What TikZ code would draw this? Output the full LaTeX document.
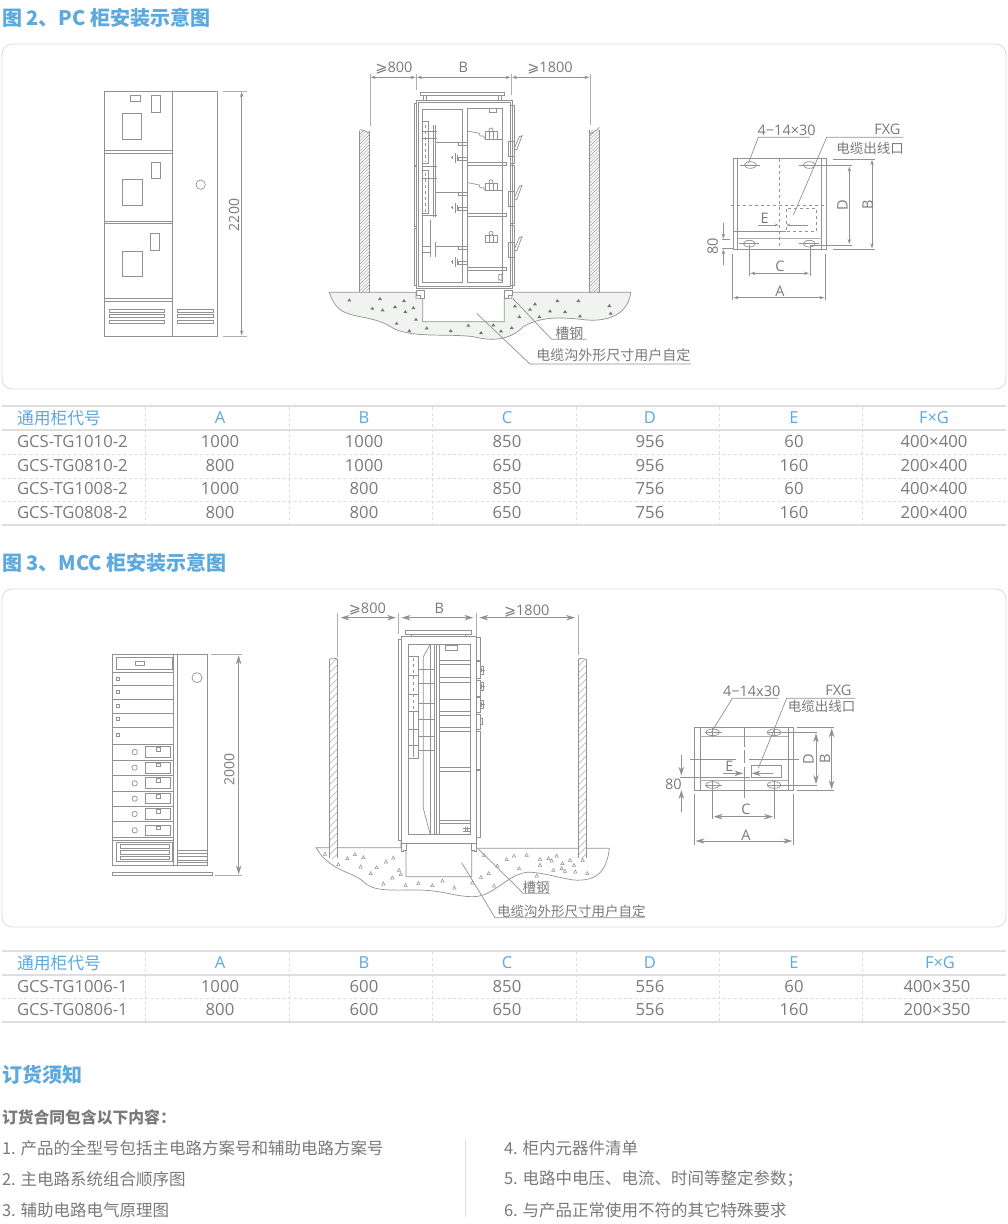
\documentclass[tikz,border=0pt]{standalone}
\usepackage{fontspec}
\setmainfont{Open Sans}
\newfontfamily\cjk{Noto Sans CJK SC}
\newfontfamily\symf{DejaVu Sans}
\usetikzlibrary{arrows.meta}
\definecolor{bluehd}{HTML}{5CA9DE}
\definecolor{txt}{HTML}{7A7A7A}
\definecolor{lc}{HTML}{929292}
\definecolor{lcl}{HTML}{ADADAD}
\definecolor{rule}{HTML}{DEDEDE}
\definecolor{frame}{HTML}{DDDDDD}
\definecolor{gnd}{HTML}{F1F3F1}
\newcommand\fs[1]{\fontsize{#1}{#1}\selectfont}
\tikzset{
 every node/.style={inner sep=0pt,outer sep=0pt,text=txt},
 ln/.style={draw=lc,line width=.7pt},
 lnl/.style={draw=lcl,line width=.7pt},
 dimln/.style={draw=lc,line width=.6pt,{Stealth[length=5pt,width=3.4pt]}-{Stealth[length=5pt,width=3.4pt]}},
 dimbig/.style={draw=lc,line width=.7pt,{Stealth[length=9pt,width=5.5pt]}-{Stealth[length=9pt,width=5.5pt]}},
 arr/.style={draw=lc,line width=.6pt,-{Stealth[length=5pt,width=3.4pt]}},
 arrbig/.style={draw=lc,line width=.7pt,-{Stealth[length=9pt,width=5.5pt]}},
 harr/.style={draw=lc,line width=.6pt,-{Stealth[length=4pt,width=3pt,open]}},
 zoomed/.style={x=0.33333pt,y=-0.33333pt},
 hd/.style={anchor=west,text=bluehd,font=\cjk\bfseries\fs{20}},
 lab/.style={font=\fs{14.5}},
 labc/.style={font=\cjk\fs{13.5}},
 tbh/.style={text=bluehd,font=\fs{16.5}},
 tbc/.style={font=\fs{16.7}},
 li/.style={anchor=west,font=\cjk\fs{16.5}},
 rulethick/.style={draw=rule,line width=1.3pt},
 ruledash/.style={draw=rule,line width=.9pt,dash pattern=on 3pt off 2.5pt},
}
\newcommand\hatchwall[5]{%
 \begin{scope}
 \clip (#1,#2) rectangle (#3,#4);
 \pgfmathsetmacro\hsecond{#2+#5}
 \pgfmathsetmacro\hlast{#4+#3-#1}
 \foreach \yy [evaluate=\yy as \yb using \yy-(#3-#1)] in {#2,\hsecond,...,\hlast}
   \draw[draw=lc,line width=.45pt] (#1,\yy) -- (#3,\yb);
 \end{scope}
 \draw[ln] (#1,#4) -- (#1,#2) (#3,#4) -- (#3,#2);
}
\begin{document}
\begin{tikzpicture}[x=1pt,y=-1pt]
\useasboundingbox (0,0) rectangle (1008,1224);
\fill[white] (0,0) rectangle (1008,1224);

% ---- headings
\node[hd] (h2) at (2,18) {图 2、PC 柜安装示意图};
\node[hd] (h3) at (2,563) {图 3、MCC 柜安装示意图};
\node[hd] (h4) at (2,1075) {订货须知};

% ---- frames
\draw[frame,line width=.9pt,rounded corners=10pt] (2,44) rectangle (1006,389);
\draw[frame,line width=.9pt,rounded corners=10pt] (2,589) rectangle (1006,927);

% ---- tables
\foreach \y in {406,430,525} \draw[rulethick] (2,\y) -- (1006,\y);
\foreach \y in {454,478,501} \draw[ruledash] (2,\y) -- (1006,\y);
\foreach \x in {145,289,432,576,719,862} \draw[ruledash] (\x,407) -- (\x,524);
\node[anchor=west,text=bluehd,font=\cjk\fs{16.8}] (t1h) at (17,418) {通用柜代号};
\foreach \x/\t [count=\i] in {220/A,364/B,507/C,650/D,794/E,934/F×G}
  \node[tbh] (t1h\i) at (\x,418) {\t};
\foreach \t/\a/\b/\c/\d/\e/\f [count=\r] in {
  GCS-TG1010-2/1000/1000/850/956/60/400×400,
  GCS-TG0810-2/800/1000/650/956/160/200×400,
  GCS-TG1008-2/1000/800/850/756/60/400×400,
  GCS-TG0808-2/800/800/650/756/160/200×400}{
  \pgfmathsetmacro\yy{441.5+(\r-1)*23.6}
  \node[tbc,anchor=west] (t1r\r) at (17,\yy) {\t};
  \node[tbc] (t1a\r) at (220,\yy) {\a};
  \node[tbc] (t1b\r) at (364,\yy) {\b};
  \node[tbc] (t1c\r) at (507,\yy) {\c};
  \node[tbc] (t1d\r) at (650,\yy) {\d};
  \node[tbc] (t1e\r) at (794,\yy) {\e};
  \node[tbc] (t1f\r) at (934,\yy) {\f};
}
\foreach \y in {951,975,1022} \draw[rulethick] (2,\y) -- (1006,\y);
\draw[ruledash] (2,998.5) -- (1006,998.5);
\foreach \x in {145,289,432,576,719,862} \draw[ruledash] (\x,952) -- (\x,1021);
\node[anchor=west,text=bluehd,font=\cjk\fs{16.8}] (t2h) at (17,963) {通用柜代号};
\foreach \x/\t [count=\i] in {220/A,364/B,507/C,650/D,794/E,940/F×G}
  \node[tbh] (t2h\i) at (\x,963) {\t};
\foreach \t/\a/\b/\c/\d/\e/\f [count=\r] in {
  GCS-TG1006-1/1000/600/850/556/60/400×350,
  GCS-TG0806-1/800/600/650/556/160/200×350}{
  \pgfmathsetmacro\yy{986.5+(\r-1)*23.5}
  \node[tbc,anchor=west] (t2r\r) at (17,\yy) {\t};
  \node[tbc] (t2a\r) at (220,\yy) {\a};
  \node[tbc] (t2b\r) at (364,\yy) {\b};
  \node[tbc] (t2c\r) at (507,\yy) {\c};
  \node[tbc] (t2d\r) at (650,\yy) {\d};
  \node[tbc] (t2e\r) at (794,\yy) {\e};
  \node[tbc] (t2f\r) at (937,\yy) {\f};
}

% ---- notes
\node[anchor=west,font=\cjk\bfseries\fs{15.8}] (n0) at (2,1117) {订货合同包含以下内容：};
\node[li] (n1) at (2,1148) {1. 产品的全型号包括主电路方案号和辅助电路方案号};
\node[li] (n2) at (2,1179) {2. 主电路系统组合顺序图};
\node[li] (n3) at (2,1210) {3. 辅助电路电气原理图};
\node[li] (n4) at (504,1148) {4. 柜内元器件清单};
\node[li] (n5) at (504,1179) {5. 电路中电压、电流、时间等整定参数；};
\node[li] (n6) at (504,1210) {6. 与产品正常使用不符的其它特殊要求};
\draw[rule,line width=.8pt] (465,1140) -- (465,1217);

% ======== PC front view (zoom 1)
\begin{scope}[shift={(90,50)},zoomed]
\draw[ln] (44,124) rectangle (383,858);
\draw[ln,line width=1pt] (44,858) -- (383,858);
\draw[ln,line width=1pt] (247,124) -- (247,858);
\foreach \y in {300,309,514,520,745,753} \draw[ln] (44,\y) -- (247,\y);
\draw[ln] (120,136) rectangle (150,154) (184,136) rectangle (212,188) (96,190) rectangle (155,267);
\draw[ln] (184,336) rectangle (210,385) (97,388) rectangle (156,466);
\draw[ln] (181,550) rectangle (209,600) (96,604) rectangle (157,680);
\foreach \a/\b in {778/786,794/802,812/821}{
  \draw[ln] (59,\a) rectangle (224,\b);
  \draw[ln] (262,\a) rectangle (371,\b);
}
\draw[ln] (332,404) circle (14);
\draw[lnl] (400,124) -- (470,124) (400,858) -- (470,858);
\draw[dimln] (455,126) -- (455,856);
\node[rotate=90,font=\fs{14}] (d2200) at (432,495) {2200};
\end{scope}

% ======== PC side view (zoom 2)
\begin{scope}[shift={(320,50)},zoomed]
% ground
\draw[ln,fill=gnd] (28,727) -- (288,727) -- (288,745) -- (308,745) -- (308,815) -- (553,815) -- (553,745) -- (575,745) -- (578,727) -- (932,727)
  .. controls (925,790) and (870,815) .. (800,810)
  .. controls (720,800) and (660,800) .. (610,830)
  .. controls (570,870) and (520,875) .. (460,860)
  .. controls (380,850) and (280,865) .. (220,835)
  .. controls (170,800) and (110,805) .. (70,785)
  .. controls (45,770) and (35,750) .. (28,727) -- cycle;
\foreach \x/\y in {88/750,180/746,252/752,157/775,188/780,225/770,256/785,280/773,288/808,230/820,268/842,320/834,392/842,445/826,483/848,520/825,543/843,575/833,585/768,630/778,645/762,712/752,775/752,868/767,872/790,598/800,658/800,690/783,735/785,780/798}
  \fill[lc!80!black] (\x-6,\y+4) -- (\x,\y-5) -- (\x+6,\y+4) -- cycle;
% walls
\fill[white] (118,238) rectangle (148,726);
\hatchwall{118}{244}{148}{726}{10}
\draw[ln] (118,240) .. controls (130,238) and (140,245) .. (148,250);
\hatchwall{808}{240}{838}{728}{10}
\draw[ln] (808,252) .. controls (820,248) and (830,240) .. (838,232);
% cabinet
\draw[ln,fill=white] (288,152) rectangle (578,716);
\draw[ln] (294,158) rectangle (572,710);
\draw[ln] (300,128) rectangle (553,136);
\draw[ln] (310,136) rectangle (320,152) (535,136) rectangle (545,152);
\draw[ln] (282,160) rectangle (288,345) (282,350) rectangle (288,530) (282,535) rectangle (288,705);
\draw[ln] (572,165) rectangle (582,340) (572,345) rectangle (582,520) (572,525) rectangle (582,705);
\draw[ln] (306,178) rectangle (427,698);
\draw[ln] (443,176) rectangle (548,698);
\draw[ln] (507,176) rectangle (530,186);
\foreach \y in {338,490,652} \draw[ln] (443,\y) rectangle (560,\y+8);
% left bus
\draw[ln] (306,215) rectangle (325,340) (308,362) rectangle (325,490);
\draw[ln,dashed] (316,225) -- (316,335) (316,370) -- (316,485);
\draw[ln] (340,225) -- (340,500) (347,225) -- (347,500);
\foreach \y in {245,265,350,385,495} \draw[ln] (306,\y) -- (352,\y);
\draw[ln] (306,590) -- (332,590) (306,606) -- (332,606) (332,510) -- (332,620);
\draw[ln] (347,575) -- (347,620);
\foreach \a/\b in {278/322,428/472,590/635}{
  \draw[ln] (348,\a) -- (415,\a);
  \draw[ln] (415,\a) rectangle (443,\a+9);
  \draw[ln] (415,\b) rectangle (443,\b+8);
  \draw[ln] (406,\b-14) -- (406,\b+16) (412,\b-8) -- (412,\b+10) (392,\b) -- (400,\b) (398,\b-5) -- (398,\b+6);
}
% breakers
\foreach \d in {0,155}{
  \draw[ln] (443,243+\d) -- (478,250+\d) -- (480,258+\d) -- (490,258+\d) -- (497,268+\d);
}
\foreach \y in {245,400,555}{
  \draw[ln] (497,\y) rectangle (533,\y+22) (507,\y) -- (507,\y+22) (520,\y) -- (520,\y+22);
  \draw[ln] (513,\y-5) circle (6);
}
\foreach \y in {267,422} \draw[ln] (548,\y) -- (533,\y);
% handles
\foreach \y in {275,424,578}{
  \draw[ln] (565,\y) rectangle (582,\y+45);
  \draw[ln] (582,\y+22) -- (598,\y-15) -- (606,\y-18) -- (590,\y+25) -- cycle;
}
\draw[ln] (536,672) -- (536,692) (536,676) -- (546,672) -- (546,692) -- (536,688);
% channels
\draw[ln,fill=white] (288,720) -- (312,720) -- (312,745) -- (300,745) -- (300,735) -- (288,735) -- cycle;
\draw[ln,fill=white] (553,720) -- (578,720) -- (578,735) -- (566,735) -- (566,745) -- (553,745) -- cycle;
% dims
\draw[lnl] (150,72) -- (150,228) (289,72) -- (289,120) (574,72) -- (574,135) (810,72) -- (810,225);
\draw[dimln] (152,82) -- (287,82);
\draw[dimln] (291,82) -- (572,82);
\draw[dimln] (576,82) -- (808,82);
\node[lab] (ge800a) at (222,53) {{\symf ⩾}800};
\node[lab] (Ba) at (430,53) {B};
\node[lab] (ge1800a) at (690,53) {{\symf ⩾}1800};
% leaders
\coordinate (la1) at (578,745);
\coordinate (la2) at (695,868);
\coordinate (la3) at (800,868);
\draw[ln] (la1) -- (la2) -- (la3);
\coordinate (lb1) at (470,790);
\coordinate (lb2) at (630,942);
\coordinate (lb3) at (1113,942);
\draw[ln] (lb1) -- (lb2) -- (lb3);
\node[labc,font=\cjk\fs{14}] (cg1) at (748,851) {槽钢};
\node[labc,font=\cjk\fs{14}] (cd1) at (880,916) {电缆沟外形尺寸用户自定};
\end{scope}

% ======== PC plan (zoom 3)
\begin{scope}[shift={(690,110)},zoomed]
\draw[ln] (130,146) rectangle (410,418);
\draw[ln] (143,146) -- (143,418) (395,146) -- (395,418);
\draw[lnl] (143,386) -- (395,386);
\draw[ln,dashed] (268,146) -- (268,418);
\draw[ln,dashed] (122,285) -- (410,285);
\draw[ln,dashed] (288,296) rectangle (380,364);
\draw[ln] (130,364) -- (288,364);
\foreach \x/\y in {181/165,358/165,178/401,358/401}{
  \draw[ln] (\x,\y) ellipse [x radius=18,y radius=10];
  \draw[ln] (\x-30,\y) -- (\x+28,\y);
}
\draw[ln] (360,167) -- (485,167) (360,405) -- (485,405);
\draw[ln] (428,147) -- (556,147) (428,418) -- (556,418);
\draw[dimln] (478,170) -- (478,402);
\draw[dimln] (546,150) -- (546,415);
\node[rotate=90,lab] (Dp1) at (457,285) {D};
\node[rotate=90,lab] (Bp1) at (533,285) {B};
\draw[ln] (178,405) -- (178,497) (360,405) -- (360,497);
\draw[ln] (127,432) -- (127,570) (406,432) -- (406,570);
\draw[dimln] (181,490) -- (357,490);
\draw[dimln] (130,563) -- (403,563);
\node[lab] (Cp1) at (270,470) {C};
\node[lab] (Ap1) at (270,545) {A};
\draw[harr] (203,345) -- (266,345);
\draw[harr] (355,345) -- (289,345);
\node[lab] (Ep1) at (224,325) {E};
\draw[arr] (100,338) -- (100,386);
\draw[arr] (100,466) -- (100,418);
\draw[ln] (95,388) -- (120,388) (95,416) -- (130,416);
\node[rotate=90,lab] (e80p1) at (68,408) {80};
\coordinate (l41) at (175,160);
\coordinate (l42) at (205,82);
\coordinate (l43) at (360,82);
\draw[ln] (l41) -- (l42) -- (l43);
\coordinate (lf1) at (310,315);
\coordinate (lf2) at (410,82);
\coordinate (lf3) at (640,82);
\draw[ln] (lf1) -- (lf2) -- (lf3);
\node[lab] (s1) at (290,60) {4−14×30};
\node[lab] (fxg1) at (592,58) {FXG};
\node[labc] (dk1) at (540,115) {电缆出线口};
\end{scope}

% ======== MCC front view (zoom 4)
\begin{scope}[shift={(100,640)},zoomed]
\draw[ln] (36,42) rectangle (322,676);
\draw[ln] (220,42) -- (220,676) (232,42) -- (232,676);
\draw[ln] (36,676) -- (322,676);
\draw[ln] (36,697) rectangle (338,706);
\draw[ln] (50,52) rectangle (218,88);
\draw[ln] (107,63) rectangle (133,76);
\foreach \y in {97,137,179,220,261,313,361,406,453,499,545,592,600} \draw[ln] (36,\y) -- (220,\y);
\foreach \y in {116,156,197,237,285} \draw[ln] (50,\y-4) rectangle (58,\y+4);
\foreach \y in {336,383,430,476,522,571} \draw[ln] (104,\y) circle (8);
\foreach \a/\b in {320/352,366/399,413/445,460/491,506/538,555/587}{
  \draw[ln] (136,\a) rectangle (212,\b);
  \draw[ln] (169,\a+3) rectangle (181,\a+14);
}
\draw[ln] (50,607) rectangle (218,664);
\draw[ln] (60,613) rectangle (208,625) (60,630) rectangle (208,642) (60,648) rectangle (208,658);
\draw[ln] (291,113) circle (15);
\foreach \y in {631,640,650,660,668} \draw[ln] (232,\y) -- (322,\y);
\draw[lnl] (332,43) -- (425,43) (345,706) -- (425,706);
\draw[dimbig] (416,46) -- (416,703);
\node[rotate=90,font=\fs{14}] (d2000) at (388,388) {2000};
\end{scope}

% ======== MCC side view (zoom 5)
\begin{scope}[shift={(310,595)},zoomed]
\draw[ln,fill=white] (18,758) -- (273,758) -- (273,745) -- (288,770) -- (288,845) -- (485,845) -- (485,770) -- (499,760) -- (898,760)
  .. controls (890,830) and (860,860) .. (790,855)
  .. controls (730,845) and (690,830) .. (650,832)
  .. controls (590,840) and (550,905) .. (490,905)
  .. controls (430,905) and (400,885) .. (320,885)
  .. controls (240,885) and (190,890) .. (160,860)
  .. controls (130,830) and (60,830) .. (18,758) -- cycle;
\foreach \x/\y in {45/777,85/808,112/790,135/778,160/787,152/815,182/835,200/817,228/800,250/788,267/825,272/838,247/848,220/866,287/870,325/864,367/871,397/857,433/878,487/863,513/846,536/835,552/872,522/780,562/812,590/793,612/782,650/780,627/820,690/792,690/810,716/790,725/797,740/782,757/805,755/820,765/828,730/825,780/795,792/810,796/830,818/795,832/835,680/842}
  \draw[ln,line width=.5pt] (\x-5,\y+4) -- (\x,\y-5) -- (\x+5,\y+4) -- cycle;
% walls
\fill[white] (58,190) rectangle (82,790);
\hatchwall{58}{192}{82}{790}{21}
\draw[ln] (58,192) -- (82,190);
\fill[white] (805,190) rectangle (829,790);
\hatchwall{805}{192}{829}{790}{21}
\draw[ln] (805,190) -- (829,192);
% cabinet
\draw[ln,fill=white] (273,125) rectangle (499,745);
\draw[ln] (287,105) rectangle (483,117);
\draw[ln] (305,117) -- (305,125) (465,117) -- (465,125);
\draw[ln] (265,133) rectangle (273,735);
\draw[ln] (294,147) rectangle (480,718);
\foreach \a/\b in {128/195,200/250,255/303,308/353,358/404,408/523,527/728}
  \draw[ln] (499,\a) rectangle (511,\b);
\foreach \x in {372,380,388} \draw[ln] (\x,147) -- (\x,718);
\draw[ln] (360,150) -- (340,185) -- (340,640) -- (360,716);
\draw[ln] (360,150) -- (360,716);
\draw[ln] (296,183) rectangle (325,490);
\draw[ln,dashed] (311,190) -- (311,345);
\draw[ln] (311,350) -- (311,485);
\foreach \y in {240,298,350,403,450} \draw[ln] (296,\y) -- (325,\y);
\foreach \y in {222,265,325,372,423,465} \draw[ln] (325,\y) -- (372,\y);
\draw[ln] (405,150) rectangle (443,167);
\foreach \y in {195,208,248,262,313,350,360,397,408,517,530,677,685} \draw[ln] (388,\y) -- (480,\y);
\draw[ln] (459,700) -- (480,700) (459,708) -- (480,708) (466,695) -- (466,712) (473,695) -- (473,712);
\foreach \y in {225,275,328}{
  \draw[ln] (511,\y-12) rectangle (520,\y+12) (511,\y) -- (525,\y) (515,\y-7) -- (515,\y+7);
}
\draw[ln] (511,370) rectangle (518,388);
% channels
\draw[ln,fill=white] (273,745) -- (290,745) -- (290,765) -- (280,765) -- (280,770) -- (273,770) -- cycle;
\draw[ln,fill=white] (484,745) -- (499,745) -- (499,770) -- (492,770) -- (492,765) -- (484,765) -- cycle;
% dims
\draw[lnl] (82,55) -- (82,185) (265,55) -- (265,118) (499,55) -- (499,125) (805,60) -- (805,180);
\draw[dimbig] (92,68) -- (258,68);
\draw[dimbig] (275,68) -- (490,68);
\draw[dimbig] (508,68) -- (795,68);
\node[lab] (ge800b) at (172,42) {{\symf ⩾}800};
\node[lab] (Bb) at (388,40) {B};
\node[lab] (ge1800b) at (650,48) {{\symf ⩾}1800};
\coordinate (lc1) at (505,762);
\coordinate (lc2) at (640,895);
\coordinate (lc3) at (720,895);
\draw[ln] (lc1) -- (lc2) -- (lc3);
\coordinate (ld1) at (455,803);
\coordinate (ld2) at (555,968);
\coordinate (ld3) at (1005,968);
\draw[ln] (ld1) -- (ld2) -- (ld3);
\node[labc] (cg2) at (678,876) {槽钢};
\node[labc] (cd2) at (784,948) {电缆沟外形尺寸用户自定};
\end{scope}

% ======== MCC plan (zoom 6)
\begin{scope}[shift={(660,675)},zoomed]
\draw[ln] (104,157) rectangle (400,346);
\draw[ln] (121,157) -- (121,346) (385,157) -- (385,346);
\draw[lnl] (121,183) -- (385,183) (121,316) -- (385,316);
\draw[ln] (254,157) -- (254,215) (254,225) -- (254,265) (254,275) -- (254,370);
\draw[ln] (90,253) -- (228,253) (268,253) -- (418,253);
\draw[ln] (274,270) rectangle (364,306);
\draw[ln] (60,307) -- (270,307);
\foreach \x/\y in {158/172,342/172,158/330,342/330}{
  \draw[ln] (\x,\y) ellipse [x radius=20,y radius=10];
  \draw[ln] (\x-22,\y) -- (\x+28,\y) (\x,\y-14) -- (\x,\y+14);
}
\draw[ln] (342,172) -- (472,172) (342,330) -- (472,330);
\draw[ln] (412,157) -- (522,157) (412,346) -- (522,346);
\draw[dimbig] (468,175) -- (468,327);
\draw[dimbig] (515,160) -- (515,343);
\node[rotate=90,lab] (Dp2) at (445,252) {D};
\node[rotate=90,lab] (Bp2) at (495,250) {B};
\draw[ln] (158,340) -- (158,432) (342,340) -- (342,432);
\draw[ln] (104,358) -- (104,510) (400,358) -- (400,510);
\draw[dimbig] (161,425) -- (339,425);
\draw[dimbig] (107,498) -- (397,498);
\node[lab] (Cp2) at (258,403) {C};
\node[lab] (Ap2) at (258,480) {A};
\draw[arrbig] (190,295) -- (250,295);
\draw[arrbig] (340,295) -- (275,295);
\node[lab] (Ep2) at (208,273) {E};
\draw[arrbig] (64,240) -- (64,302);
\draw[arrbig] (64,412) -- (64,345);
\node[lab] (e80p2) at (40,328) {80};
\coordinate (l51) at (155,170);
\coordinate (l52) at (217,70);
\coordinate (l53) at (355,70);
\draw[ln] (l51) -- (l52) -- (l53);
\coordinate (lg1) at (295,280);
\coordinate (lg2) at (380,70);
\coordinate (lg3) at (585,70);
\draw[ln] (lg1) -- (lg2) -- (lg3);
\node[lab] (s2) at (275,48) {4−14x30};
\node[lab] (fxg2) at (535,47) {FXG};
\node[labc] (dk2) at (485,95) {电缆出线口};
\end{scope}
\end{tikzpicture}
\end{document}
